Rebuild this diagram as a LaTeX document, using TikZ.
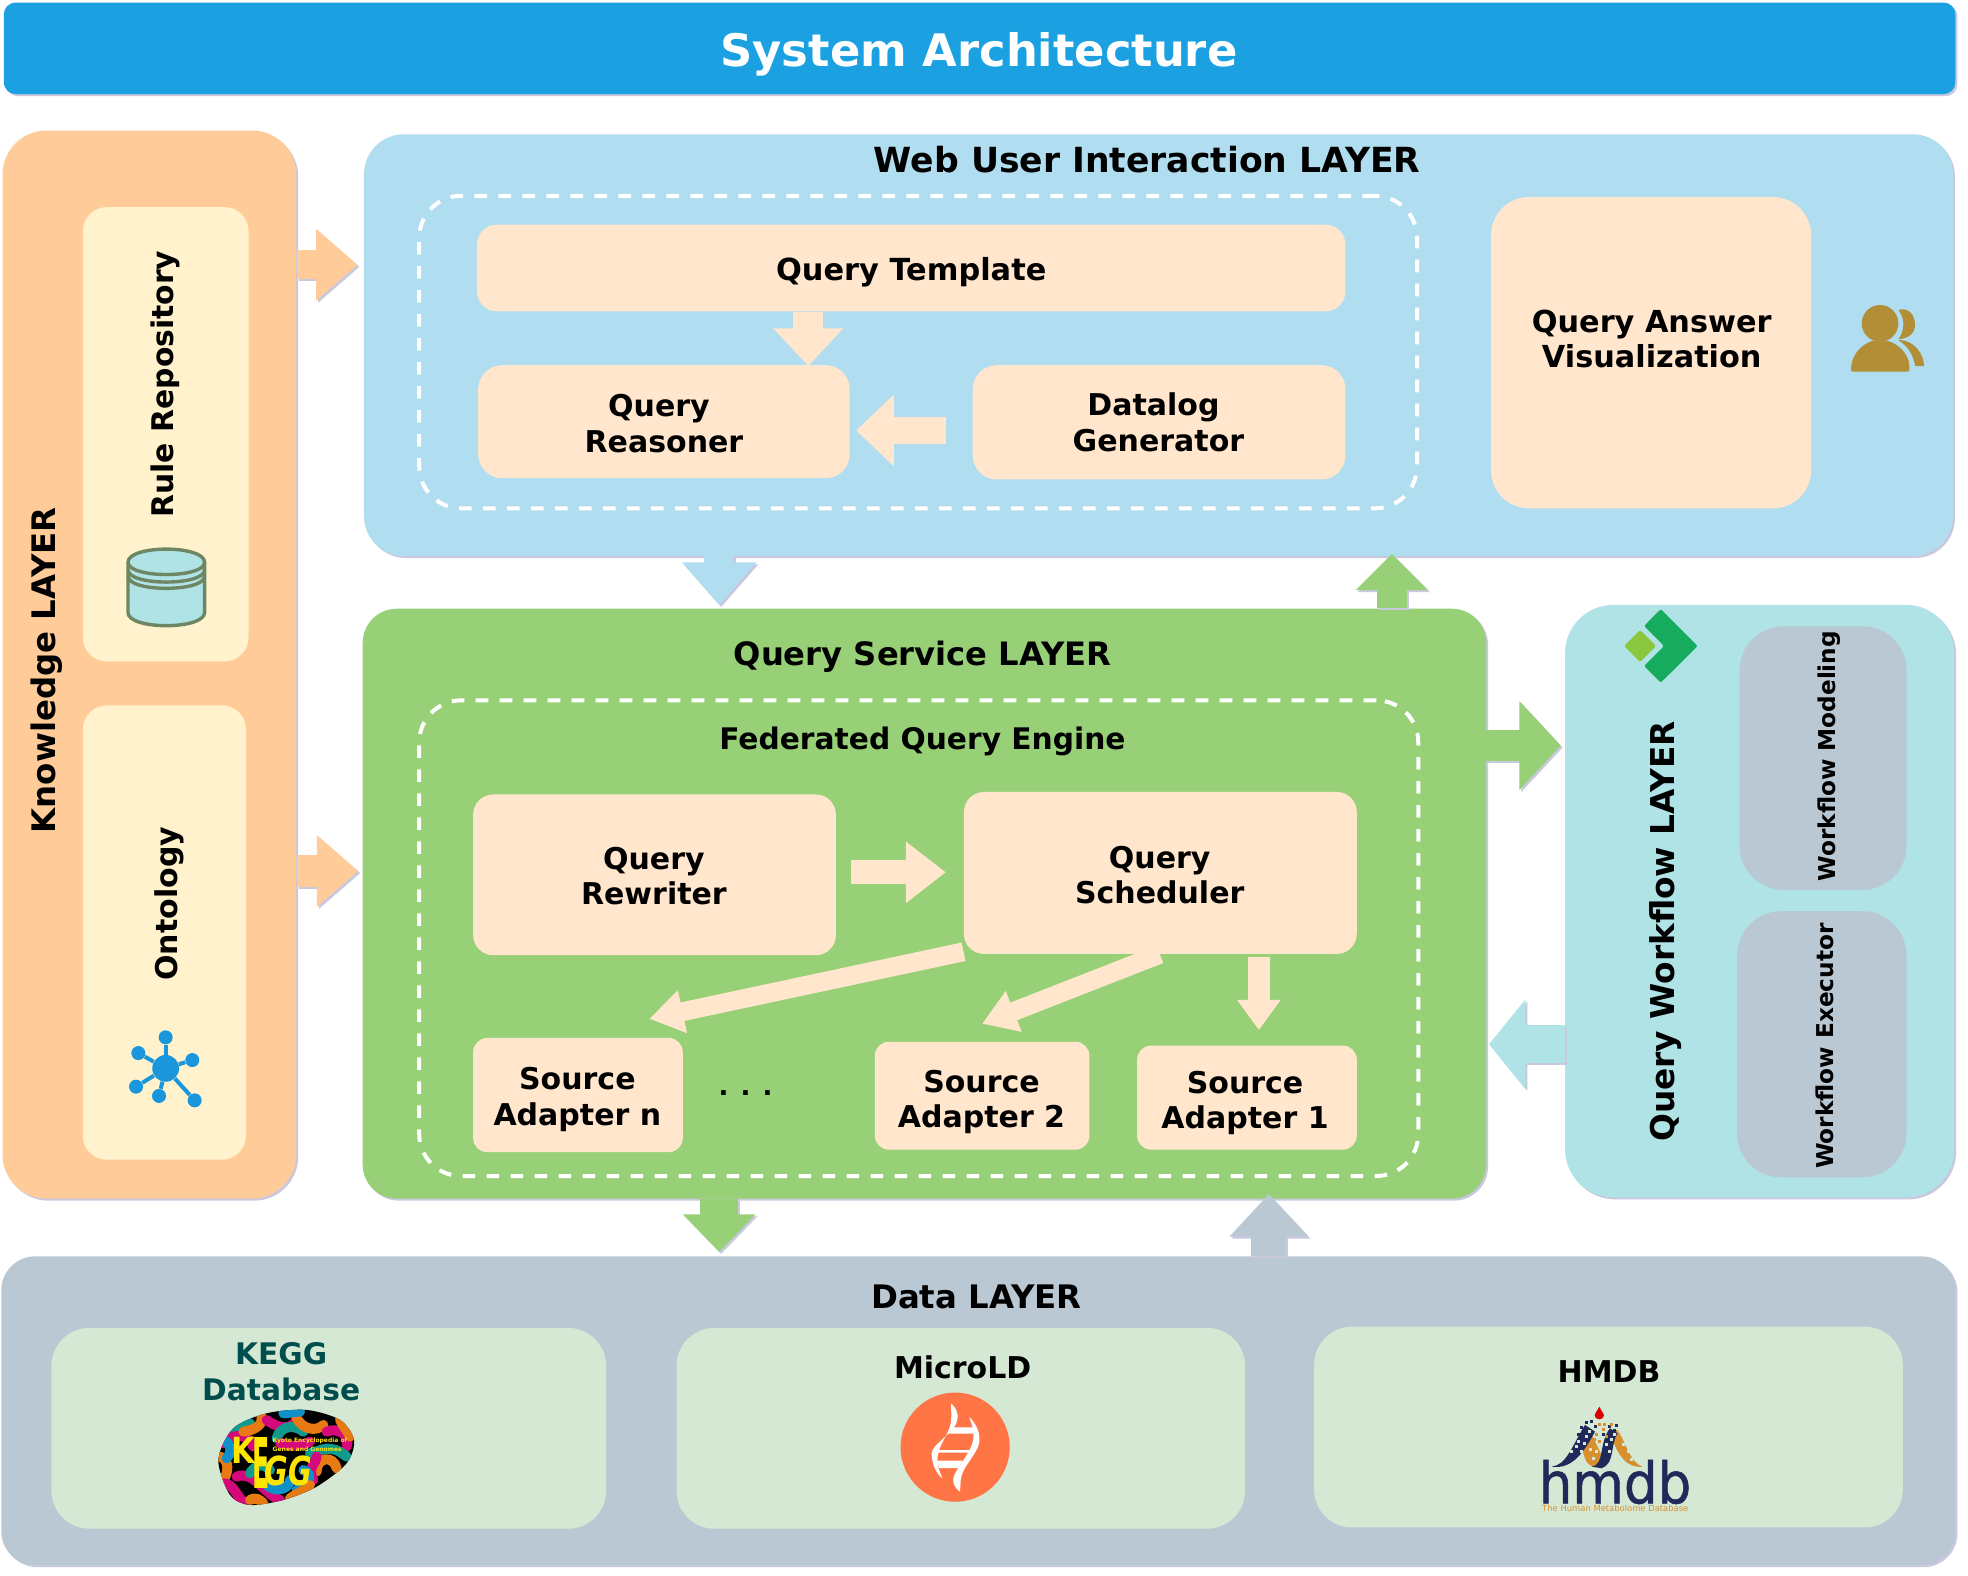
\documentclass[tikz,border=0pt]{standalone}
\usepackage{fontspec}
\setmainfont{DejaVu Sans}
\newfontfamily\hmfont[FakeBold=1]{DejaVu Sans}
\usetikzlibrary{arrows.meta,shadows,calc}
\definecolor{titleC}{HTML}{1BA1E2}
\definecolor{knowC}{HTML}{FFCC99}
\definecolor{ruleC}{HTML}{FFF2CC}
\definecolor{webC}{HTML}{B1DDF0}
\definecolor{innerC}{HTML}{FFE6CC}
\definecolor{qsC}{HTML}{97D077}
\definecolor{wfC}{HTML}{B0E3E6}
\definecolor{grayC}{HTML}{BAC8D3}
\definecolor{dataC}{HTML}{D5E8D4}
\definecolor{shC}{HTML}{C8C8DE}
\definecolor{dbLine}{HTML}{6D8764}
\definecolor{hubC}{HTML}{1996DC}
\definecolor{userC}{HTML}{B28E36}
\definecolor{dGreen}{HTML}{17AB5E}
\definecolor{dLime}{HTML}{8AC73F}
\definecolor{keggT}{HTML}{004D4D}
\definecolor{dnaC}{HTML}{FF7546}
\definecolor{kMag}{HTML}{D5087C}
\definecolor{kTeal}{HTML}{109A8E}
\definecolor{kOr}{HTML}{E87A14}
\definecolor{kBlue}{HTML}{1090C8}
\definecolor{kYel}{HTML}{FFE600}
\definecolor{hNavy}{HTML}{1F2A5A}
\definecolor{hOr}{HTML}{D8902F}
\def\uu{0.62755}
\tikzset{
  x=0.62755pt,y=-0.62755pt,
  shadowed/.style={drop shadow={shadow xshift=1pt,shadow yshift=-1pt,fill=shC,opacity=1}},
  layer/.style={shadowed,draw=none},
  dashbox/.style={draw=white,line width=2pt,dash pattern=on 6.3pt off 5.7pt,fill=none,rounded corners=21pt},
  txt/.style={font=\bfseries\fontsize{15}{17.6}\selectfont,align=center,inner sep=0pt,text=black},
  big/.style={txt,font=\bfseries\fontsize{16.2}{19}\selectfont},
  small/.style={txt,font=\bfseries\fontsize{11.6}{14}\selectfont},
  kst/.style={line width=5pt,line cap=round,draw=#1},
}
\newcommand\bx[6]{\pgfmathsetmacro\bw{(#4-#2)*\uu}\pgfmathsetmacro\bh{(#5-#3)*\uu}%
  \node[#6,minimum width=\bw pt,minimum height=\bh pt,inner sep=0pt] (#1) at ({(#2+#4)/2},{(#3+#5)/2}) {};}
\newcommand\blk[7]{\pgfmathsetmacro\sw{#3*\uu}\pgfmathsetmacro\hw{#4*\uu}\pgfmathsetmacro\hl{#5*\uu}%
  \draw[line width=\sw pt,-{Triangle[width=\hw pt,length=\hl pt]},color=#6,#7] #1 -- #2;}
\newcommand\sblk[7]{\pgfmathsetmacro\sw{#3*\uu}\pgfmathsetmacro\hw{#4*\uu}\pgfmathsetmacro\hl{#5*\uu}%
  \draw[transform canvas={xshift=1pt,yshift=-1pt},line width=\sw pt,-{Triangle[width=\hw pt,length=\hl pt]},color=shC,#7] #1 -- #2;
  \draw[line width=\sw pt,-{Triangle[width=\hw pt,length=\hl pt]},color=#6,#7] #1 -- #2;}
\begin{document}
\begin{tikzpicture}
\useasboundingbox (0,0) rectangle (1568,1254.9);
\fill[white] (0,0) rectangle (1568,1254.9);
% layers
\bx{title}{3}{2}{1558}{75}{layer,fill=titleC,rounded corners=6pt}
\bx{know}{2}{104}{236}{955}{layer,fill=knowC,rounded corners=22pt}
\bx{web}{290}{107}{1556}{443}{layer,fill=webC,rounded corners=20pt}
\bx{qs}{289}{485}{1184}{955}{layer,fill=qsC,rounded corners=17pt}
\bx{wf}{1247}{482}{1557}{954}{layer,fill=wfC,rounded corners=24pt}
\bx{data}{1}{1001}{1558}{1247}{layer,fill=grayC,rounded corners=17pt}
% block arrows between layers
\sblk{(know.east |- 0,211)}{(web.west |- 0,211)}{23}{55}{33}{knowC}{shorten >=3pt}
\sblk{(know.east |- 0,694)}{(qs.west |- 0,694)}{25}{55}{33}{knowC}{shorten >=2pt}
\sblk{(web.south -| 573,0)}{(qs.north -| 573,0)}{23.4}{57}{34}{webC}{shorten >=1.6pt}
\sblk{(qs.north -| 1109,0)}{(web.south -| 1109,0)}{24}{56}{29}{qsC}{shorten >=-1.3pt}
\sblk{(qs.east |- 0,594)}{(wf.west |- 0,594)}{25}{69}{33}{qsC}{shorten >=2pt}
\sblk{(wf.west |- 0,832)}{(qs.east |- 0,832)}{30}{70}{29}{wfC}{shorten >=1.3pt}
\sblk{(qs.south -| 573,0)}{(data.north -| 573,0)}{30}{56}{30}{qsC}{shorten >=2pt}
\sblk{(data.north -| 1011,0)}{(qs.south -| 1011,0)}{28}{61}{34}{grayC}{shorten >=-2.5pt}
% knowledge
\bx{rule}{66}{165}{198}{527}{fill=ruleC,rounded corners=12pt}
\bx{onto}{66}{562}{196}{924}{fill=ruleC,rounded corners=12pt}
\node[big,rotate=90] (knowT) at (37,534) {Knowledge LAYER};
\node[txt,font=\bfseries\fontsize{14.9}{17.6}\selectfont,rotate=90] (ruleT) at (132,306) {Rule Repository};
\node[txt,rotate=90] (ontoT) at (135,720) {Ontology};
% database icon
\begin{scope}[line width=1.7pt]
  \filldraw[fill=wfC,draw=dbLine] (102,448) -- (102,488) .. controls (102,502) and (163,502) .. (163,488) -- (163,448) .. controls (163,434) and (102,434) .. (102,448) -- cycle;
  \draw[dbLine] (102,448) .. controls (102,461) and (163,461) .. (163,448);
  \draw[dbLine] (102,454) .. controls (102,467) and (163,467) .. (163,454);
  \draw[dbLine] (102,459) .. controls (102,472) and (163,472) .. (163,459);
\end{scope}
% hub icon
\node[circle,fill=hubC,minimum size=13.4pt,inner sep=0pt] (hub) at (132,851.2) {};
\foreach \n/\xx/\yy in {a/132/826.5,b/110.2/839,c/153.2/844.6,d/108.4/865.8,e/126.7/873.2,f/155.1/876.7}{
  \node[circle,fill=hubC,minimum size=7pt,inner sep=0pt] (hub\n) at (\xx,\yy) {};
  \draw[hubC,line width=2pt] (hub) -- (hub\n);
}
% web layer
\node[txt,font=\bfseries\fontsize{17.3}{20}\selectfont] (webT) at (914,127) {Web User Interaction LAYER};
\bx{webdash}{334}{156}{1129}{405}{dashbox}
\bx{QT}{380}{179}{1072}{248}{fill=innerC,rounded corners=10pt}
\bx{QR}{381}{291}{677}{381}{fill=innerC,rounded corners=12pt}
\bx{DG}{775}{291}{1072}{382}{fill=innerC,rounded corners=12pt}
\bx{QAV}{1188}{157}{1443}{405}{fill=innerC,rounded corners=19pt}
\node[txt,font=\bfseries\fontsize{15.2}{18}\selectfont] (QTt) at (726,217) {Query Template};
\node[txt] (QRt) at (529,337.5) {Query\kern5pt\\Reasoner};
\node[txt] (DGt) at (923,336.5) {Datalog\kern5pt\\Generator};
\node[txt,font=\bfseries\fontsize{15.15}{17.6}\selectfont] (QAVt) at (1316,270) {Query Answer\\Visualization};
\blk{(QT.south -| 644,0)}{(QR.north -| 644,0)}{24}{54}{30}{innerC}{shorten >=-0.6pt}
\blk{(DG.west |- 0,343)}{(QR.east |- 0,343)}{22}{55}{30}{innerC}{shorten <=13pt,shorten >=3pt}
% users and workflow icons
\begin{scope}[shift={(1155.3,223.1)},x=0.16667pt,y=-0.16667pt]
  \fill[userC] (1290,130) circle[radius=55];
  \fill[userC,rounded corners=1pt] (1203,275) .. controls (1203,215) and (1250,180) .. (1290,180) .. controls (1330,180) and (1378,215) .. (1378,265) -- (1378,275) -- cycle;
  \fill[userC] (1345,90) .. controls (1375,80) and (1395,105) .. (1395,135) .. controls (1395,160) and (1375,175) .. (1345,178) .. controls (1365,150) and (1365,115) .. (1345,90) -- cycle;
  \fill[userC] (1345,180) .. controls (1395,180) and (1422,225) .. (1422,258) -- (1395,258) .. controls (1390,225) and (1375,200) .. (1345,180) -- cycle;
  \fill[dGreen,rounded corners=1pt] (743,1098) -- (632,987) -- (582,1038) -- (642,1098) -- (582,1158) -- (632,1208) -- cycle;
  \fill[dLime,rounded corners=1pt] (522,1098) -- (570,1050) -- (618,1098) -- (570,1146) -- cycle;
\end{scope}
% query service
\node[big,font=\bfseries\fontsize{16.1}{19}\selectfont] (qsT) at (735,523) {Query Service LAYER};
\bx{qsdash}{334}{558}{1130}{937}{dashbox}
\node[txt,font=\bfseries\fontsize{14.85}{17}\selectfont] (fqeT) at (735,591) {Federated Query Engine};
\bx{QRw}{377}{633}{666}{761}{fill=innerC,rounded corners=10pt}
\bx{QS}{768}{631}{1081}{760}{fill=innerC,rounded corners=10pt}
\bx{SAn}{377}{827}{544}{918}{fill=innerC,rounded corners=7pt}
\bx{SAtwo}{697}{830}{868}{916}{fill=innerC,rounded corners=7pt}
\bx{SAone}{906}{833}{1081}{916}{fill=innerC,rounded corners=7pt}
\node[txt] (QRwt) at (521,698) {Query\\Rewriter};
\node[txt] (QSt) at (924,697) {Query\\Scheduler};
\node[txt] (SAnt) at (460,876) {Source\\Adapter n};
\node[txt] (SAtwot) at (782,878) {Source\\Adapter 2};
\node[txt] (SAonet) at (992,879) {Source\\Adapter 1};
\node[txt,anchor=base,font=\bfseries\fontsize{13}{15}\selectfont] (dots) at (594,873) {. . .};
\blk{(QRw.east |- 0,695)}{(QS.west |- 0,695)}{19}{47}{32}{innerC}{shorten <=7.5pt,shorten >=8.8pt}
\blk{($(QS.south west)+(0,-2)$)}{($(SAn.north east)+(-27,-15)$)}{15}{33}{27}{innerC}{}
\blk{(QS.south -| 924,0)}{($(SAtwo.north)+(0,-14)$)}{15}{33}{27}{innerC}{}
\blk{(QS.south -| 1003,0)}{(SAone.north -| 1003,0)}{18}{33}{24}{innerC}{shorten <=1.3pt,shorten >=7.5pt}
% workflow
\bx{WM}{1386}{499}{1519}{709}{fill=grayC,rounded corners=22pt}
\bx{WE}{1384}{726}{1519}{938}{fill=grayC,rounded corners=22pt}
\node[big,font=\bfseries\fontsize{16.4}{19}\selectfont,rotate=90] (wfT) at (1327,742) {Query Workflow LAYER};
\node[small,rotate=90] (WMt) at (1457.6,602.5) {Workflow Modeling};
\node[small,rotate=90] (WEt) at (1454,833.5) {Workflow Executor};
% data
\node[big] (dataT) at (778,1033) {Data LAYER};
\bx{KG}{41}{1058}{483}{1218}{fill=dataC,rounded corners=19pt}
\bx{ML}{539}{1058}{992}{1218}{fill=dataC,rounded corners=19pt}
\bx{HM}{1047}{1057}{1516}{1217}{fill=dataC,rounded corners=19pt}
\node[txt,font=\bfseries\fontsize{14.85}{17.8}\selectfont,text=keggT] (KGt) at (224,1093) {KEGG\\Database};
\node[txt] (MLt) at (767,1089) {MicroLD};
\node[txt] (HMt) at (1282,1093) {HMDB};
% KEGG logo
\begin{scope}[shift={(159.35,1115.4)},x=0.16667pt,y=-0.16667pt]
  \begin{scope}
    \clip plot[smooth cycle] coordinates {(55,180) (100,85) (200,40) (320,30) (420,60) (462,120) (440,190) (350,260) (250,300) (150,315) (90,285)};
    \fill[black] (0,0) rectangle (500,350);
    \draw[kst=kTeal] (95,105) .. controls (120,80) and (140,80) .. (150,70);
    \draw[kst=kMag] (70,130) .. controls (110,90) and (150,110) .. (160,140);
    \draw[kst=kOr] (130,95) .. controls (170,90) and (190,70) .. (185,50);
    \draw[kst=kMag] (200,60) .. controls (240,90) and (280,90) .. (290,55);
    \draw[kst=kTeal] (230,115) .. controls (240,80) and (280,70) .. (310,95);
    \draw[kst=kOr] (290,55) .. controls (310,90) and (350,95) .. (370,75);
    \draw[kst=kMag] (380,95) .. controls (420,80) and (450,110) .. (440,140);
    \draw[kst=kOr] (420,60) .. controls (430,80) and (440,90) .. (450,110);
    \draw[kst=kBlue] (250,40) .. controls (270,40) and (280,35) .. (300,35);
    \draw[kst=kOr] (350,215) .. controls (350,170) and (400,165) .. (410,205);
    \draw[kst=kTeal] (330,160) .. controls (370,150) and (390,130) .. (440,170);
    \draw[kst=kMag] (340,240) .. controls (320,200) and (350,190) .. (350,170);
    \draw[kst=kBlue] (290,270) .. controls (330,260) and (340,220) .. (310,210);
    \draw[kst=kOr] (270,295) .. controls (290,280) and (320,270) .. (330,255);
    \draw[kst=kMag] (110,230) .. controls (160,210) and (190,280) .. (240,300);
    \draw[kst=kTeal] (150,220) .. controls (170,190) and (190,190) .. (210,210);
    \draw[kst=kOr] (60,170) .. controls (90,180) and (85,220) .. (70,240);
    \draw[kst=kMag] (70,250) .. controls (100,250) and (110,290) .. (130,305);
    \draw[kst=kBlue] (80,125) .. controls (90,140) and (100,150) .. (80,175);
    \draw[kst=kOr] (150,300) .. controls (170,290) and (180,300) .. (190,310);
    \draw[kst=kBlue] (205,260) .. controls (240,280) and (270,260) .. (270,240);
    \draw[kst=kMag] (240,130) .. controls (280,140) and (300,140) .. (330,125);
  \end{scope}
  \node[inner sep=0pt,text=kYel,font=\bfseries\fontsize{18}{18}\selectfont,xscale=.85,yscale=1,transform shape] (kK) at (130,150) {K};
  \node[inner sep=0pt,text=kYel,font=\bfseries\fontsize{35}{35}\selectfont,xscale=.36,transform shape] (kE) at (184,188) {E};
  \node[inner sep=0pt,text=kYel,font=\bfseries\itshape\fontsize{20}{20}\selectfont,xscale=.72,transform shape] (kG) at (264,214) {GG};
  \node[inner sep=0pt,text=kYel,font=\bfseries\fontsize{3}{4.2}\selectfont,align=left] (kS) at (330,134) {Kyoto Encyclopedia of\\Genes and Genomes};
\end{scope}
% MicroLD logo
\node[circle,fill=dnaC,minimum size=54.6pt,inner sep=0pt] (dna) at (761,1153) {};
\begin{scope}[shift={(709.1,1107.5)},x=0.16667pt,y=-0.16667pt]
  \fill[white] (183,40) .. controls (205,60) and (210,85) .. (192,112) .. controls (160,150) and (125,170) .. (125,190) .. controls (125,225) and (140,250) .. (157,265) .. controls (145,235) and (138,215) .. (145,190) .. controls (150,160) and (178,130) .. (183,95) .. controls (185,70) and (183,55) .. (183,40) -- cycle;
  \fill[white] (237,80) .. controls (262,105) and (270,130) .. (268,155) .. controls (265,190) and (215,230) .. (212,270) .. controls (212,285) and (210,295) .. (210,305) .. controls (195,295) and (188,280) .. (190,265) .. controls (195,235) and (245,190) .. (250,145) .. controls (252,120) and (245,100) .. (237,80) -- cycle;
  \fill[white] (190,112) -- (252,112) -- (250,131) -- (172,131) -- cycle;
  \fill[white] (148,180) -- (240,180) -- (235,188) -- (145,188) -- cycle;
  \fill[white] (140,212) -- (218,212) -- (205,234) -- (148,234) -- cycle;
\end{scope}
% HMDB logo
\begin{scope}[shift={(1219,1115.4)},x=0.16667pt,y=-0.16667pt]
  \fill[red!85!black] (208,20) .. controls (215,35) and (222,40) .. (222,46) .. controls (222,62) and (194,62) .. (194,46) .. controls (194,40) and (201,35) .. (208,20) -- cycle;
  \fill[hOr] (240,100) -- (262,90) .. controls (285,120) and (300,190) .. (338,200) .. controls (290,205) and (265,170) .. (240,100) -- cycle;
  \fill[hOr] (150,105) -- (180,85) .. controls (190,130) and (225,165) .. (215,190) .. controls (205,205) and (175,205) .. (165,175) .. controls (155,150) and (155,125) .. (150,105) -- cycle;
  \fill[hNavy] (65,200) .. controls (110,195) and (125,140) .. (165,75) -- (195,95) .. controls (165,150) and (130,210) .. (65,200) -- cycle;
  \fill[hNavy] (185,200) .. controls (225,195) and (205,130) .. (240,85) -- (262,100) .. controls (240,140) and (255,190) .. (215,205) -- cycle;
  \foreach \a/\b in {120/150,135/135,150/150,160/125,140/120,175/90,178/145,195/150,185/170,225/130,240/115,235/150,275/130,290/150,300/175,165/105,250/100}{
    \fill[dataC] (\a,\b) rectangle ++(9,9);
  }
  \foreach \a/\b in {180/60,165/62,150/78,192/75,235/75,250/88,255/72,140/100,215/100}{
    \fill[hNavy] (\a,\b) rectangle ++(9,9);
  }
  \foreach \a/\b in {205/70,220/68,240/70,215/85,195/100,225/105,205/120,190/115}{
    \fill[hOr] (\a,\b) rectangle ++(9,9);
  }
  \node[inner sep=0pt,text=hNavy,font=\hmfont\fontsize{28.5}{28.5}\selectfont,xscale=.93,transform shape,anchor=base] (hmdbT) at (255,310) {hmdb};
  \node[inner sep=0pt,text=hOr,font=\fontsize{4.2}{5}\selectfont,anchor=base] (hmdbS) at (256,335) {The Human Metabolome Database};
\end{scope}
% title
\node[txt,font=\bfseries\fontsize{22.4}{26}\selectfont,text=white] (titleT) at (780,43) {System Architecture};
\end{tikzpicture}
\end{document}
